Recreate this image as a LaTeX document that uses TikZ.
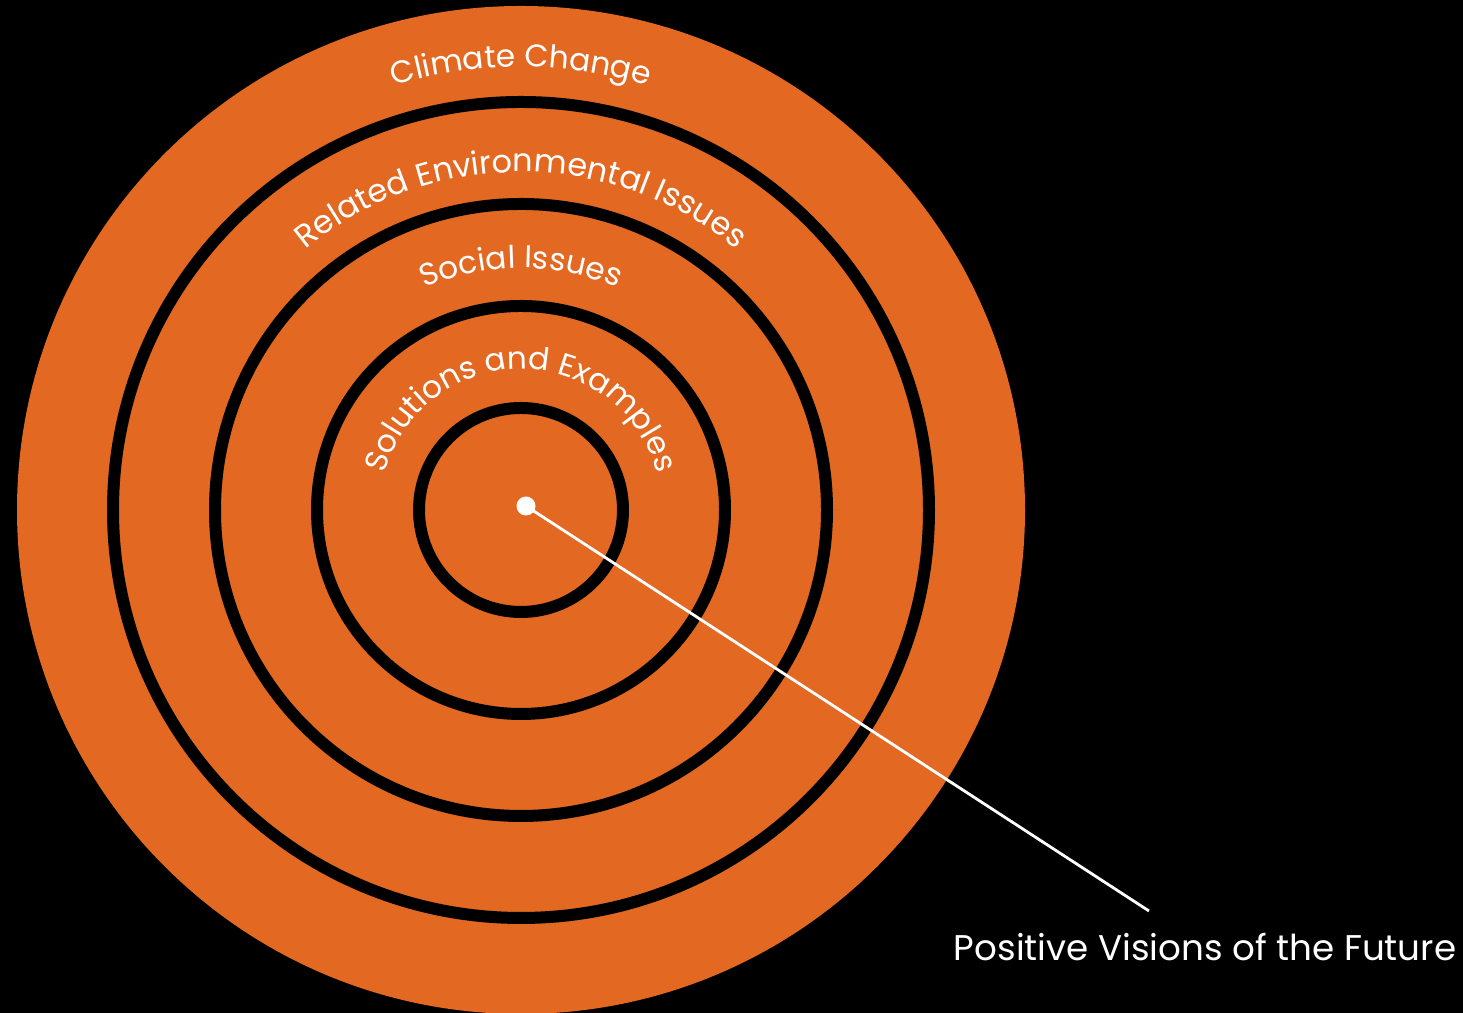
\documentclass[tikz,border=0pt]{standalone}
\usepackage{fontspec}
\newfontfamily\labelfont{Poppins}
\usetikzlibrary{decorations.text}
\definecolor{ringorange}{RGB}{227,104,34}
\tikzset{
  ringline/.style={draw=black, line width=3.41pt},
  arclabel/.style 2 args={decorate, decoration={text along path, text align=center,
      text={|\labelfont\fontsize{#1}{11}\selectfont\color{white}|#2}}},
  pointer/.style={draw=white, line width=0.8pt},
  dot/.style={circle, fill=white, inner sep=0pt, minimum size=0.19cm},
  caption/.style={text=white, font=\labelfont\fontsize{10.15}{12}\selectfont, inner sep=0pt, anchor=base}
}
\begin{document}
\begin{tikzpicture}[x=0.01cm, y=0.01cm]
  % canvas
  \fill[black] (0,0) rectangle (1463,1013);
  \useasboundingbox (0,0) rectangle (1463,1013);
  \coordinate (C) at (521,503);
  % target disc and rings
  \fill[ringorange] (C) circle[radius=504];
  \foreach \r in {408,306,204,102}
    \path[ringline] (C) circle[radius=\r];
  % ring labels along the arcs
  \path[arclabel={8.9}{Climate Change}] (C) ++(180:443) arc[start angle=180, end angle=0, radius=443];
  \path[arclabel={9.1}{Related Environmental Issues}] (C) ++(180:338) arc[start angle=180, end angle=0, radius=338];
  \path[arclabel={8.9}{Social Issues}] (C) ++(180:242) arc[start angle=180, end angle=0, radius=242];
  \path[arclabel={8.9}{Solutions and Examples}] (C) ++(180:141) arc[start angle=180, end angle=0, radius=141];
  % centre point and pointer
  \node[dot] (core) at (526,507) {};
  \coordinate (tip) at (1149,102);
  \path[pointer] (core.center) -- (tip);
  \node[caption] (vision) at (1205,52) {Positive Visions of the Future};
\end{tikzpicture}
\end{document}
